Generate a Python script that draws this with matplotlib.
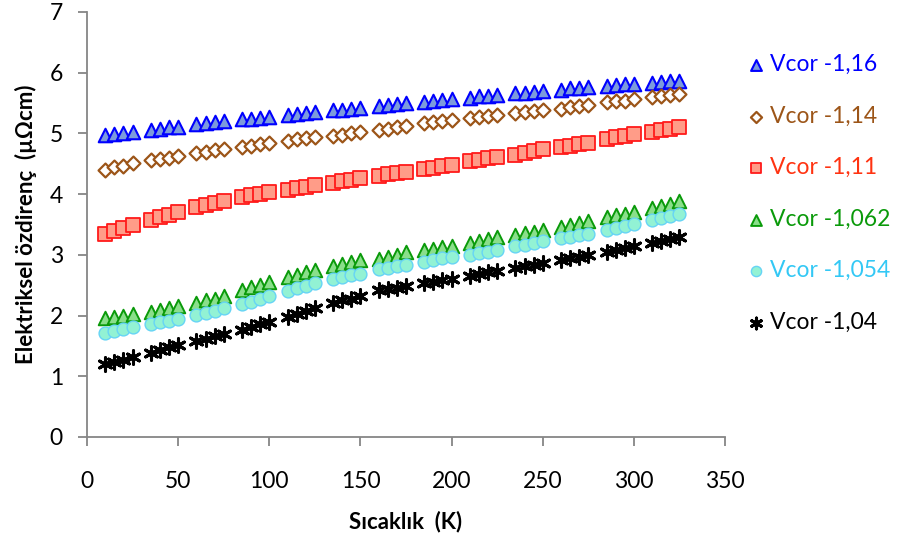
import matplotlib
matplotlib.use("Agg")
import matplotlib.pyplot as plt

plt.rcParams['font.family'] = ['Lato', 'DejaVu Sans']

# Temperature (K)
temperature = [10, 15, 20, 25, 35, 40, 45, 50, 60, 65, 70, 75, 85, 90, 95, 100,
               110, 115, 120, 125, 135, 140, 145, 150, 160, 165, 170, 175,
               185, 190, 195, 200, 210, 215, 220, 225, 235, 240, 245, 250,
               260, 265, 270, 275, 285, 290, 295, 300, 310, 315, 320, 325]

# Electrical resistivity (µΩcm) for each Vcor
rho_116 = [4.97, 4.99, 5.01, 5.03, 5.06, 5.08, 5.10, 5.11, 5.15, 5.17, 5.18, 5.20,
           5.23, 5.24, 5.26, 5.27, 5.30, 5.32, 5.33, 5.35, 5.38, 5.39, 5.41, 5.42,
           5.45, 5.47, 5.48, 5.50, 5.52, 5.54, 5.55, 5.57, 5.59, 5.61, 5.62, 5.63,
           5.66, 5.67, 5.69, 5.70, 5.72, 5.74, 5.75, 5.77, 5.78, 5.80, 5.81, 5.82,
           5.83, 5.85, 5.86, 5.87]
rho_114 = [4.40, 4.44, 4.47, 4.51, 4.56, 4.58, 4.60, 4.62, 4.68, 4.70, 4.72, 4.74,
           4.78, 4.80, 4.82, 4.85, 4.88, 4.90, 4.92, 4.94, 4.96, 4.98, 5.00, 5.02,
           5.06, 5.08, 5.10, 5.12, 5.17, 5.19, 5.20, 5.22, 5.25, 5.27, 5.28, 5.30,
           5.33, 5.35, 5.37, 5.39, 5.41, 5.43, 5.45, 5.47, 5.51, 5.53, 5.54, 5.56,
           5.60, 5.62, 5.63, 5.65]
rho_111 = [3.34, 3.39, 3.44, 3.49, 3.57, 3.62, 3.66, 3.71, 3.78, 3.82, 3.85, 3.89,
           3.95, 3.98, 4.00, 4.03, 4.07, 4.10, 4.12, 4.15, 4.18, 4.21, 4.23, 4.26,
           4.30, 4.33, 4.35, 4.37, 4.41, 4.43, 4.46, 4.48, 4.54, 4.56, 4.59, 4.61,
           4.65, 4.68, 4.71, 4.74, 4.78, 4.80, 4.83, 4.85, 4.91, 4.94, 4.96, 4.99,
           5.03, 5.05, 5.08, 5.11]
rho_1062 = [1.96, 1.98, 2.00, 2.03, 2.06, 2.09, 2.12, 2.15, 2.21, 2.25, 2.28, 2.32,
            2.42, 2.47, 2.51, 2.56, 2.63, 2.67, 2.71, 2.75, 2.82, 2.85, 2.88, 2.91,
            2.93, 2.97, 3.00, 3.04, 3.08, 3.10, 3.13, 3.15, 3.20, 3.23, 3.26, 3.29,
            3.33, 3.36, 3.38, 3.41, 3.46, 3.49, 3.52, 3.55, 3.62, 3.65, 3.68, 3.71,
            3.77, 3.81, 3.84, 3.88]
rho_1054 = [1.72, 1.75, 1.78, 1.81, 1.86, 1.89, 1.91, 1.94, 2.01, 2.05, 2.08, 2.12,
            2.19, 2.23, 2.28, 2.32, 2.41, 2.45, 2.49, 2.53, 2.60, 2.63, 2.66, 2.69,
            2.76, 2.78, 2.81, 2.83, 2.89, 2.91, 2.94, 2.96, 3.00, 3.03, 3.05, 3.08,
            3.14, 3.17, 3.19, 3.22, 3.27, 3.30, 3.32, 3.35, 3.41, 3.44, 3.48, 3.51,
            3.57, 3.60, 3.64, 3.67]
rho_104 = [1.20, 1.24, 1.27, 1.31, 1.39, 1.43, 1.48, 1.52, 1.58, 1.62, 1.66, 1.70,
           1.77, 1.81, 1.86, 1.90, 1.98, 2.03, 2.07, 2.12, 2.21, 2.25, 2.28, 2.32,
           2.42, 2.44, 2.46, 2.48, 2.53, 2.56, 2.58, 2.61, 2.65, 2.68, 2.71, 2.74,
           2.78, 2.81, 2.83, 2.86, 2.92, 2.95, 2.97, 3.00, 3.05, 3.08, 3.11, 3.14,
           3.19, 3.22, 3.26, 3.29]

labels = ['Vcor -1,16', 'Vcor -1,14', 'Vcor -1,11', 'Vcor -1,062', 'Vcor -1,054', 'Vcor -1,04']
series = [rho_116, rho_114, rho_111, rho_1062, rho_1054, rho_104]

styles = [
    dict(marker='^', s=95, facecolor='#7C9BDC', edgecolor='#0000FF', lw=1.5),
    dict(marker='D', s=50, facecolor='white', edgecolor='#9C5518', lw=1.6),
    dict(marker='s', s=95, facecolor='#FF9C88', edgecolor='#FF1A1A', lw=1.3),
    dict(marker='^', s=95, facecolor='#8ADF8A', edgecolor='#0A9A0A', lw=1.4),
    dict(marker='o', s=85, facecolor='#92F2D4', edgecolor='#66D4F5', lw=1.0),
    dict(marker=(6, 2, 0), s=95, facecolor='black', edgecolor='black', lw=2.2),
]
label_colors = ['#0000FF', '#9C5518', '#FF3311', '#0A9A0A', '#33C8F5', '#000000']

fig = plt.figure(figsize=(8.99, 5.44), dpi=100)
ax = fig.add_axes([0.0968, 0.1967, 0.7097, 0.7813])

handles = []
for vals, lab, st in zip(series, labels, styles):
    h = ax.scatter(temperature, vals, label=lab, marker=st['marker'], s=st['s'],
                   facecolors=st['facecolor'], edgecolors=st['edgecolor'],
                   linewidths=st['lw'], zorder=3)
    handles.append(h)

ax.set_xlim(0, 350)
ax.set_ylim(0, 7)
ax.set_xticks(range(0, 351, 50))
ax.set_yticks(range(0, 8))

for side in ['top', 'right']:
    ax.spines[side].set_visible(False)
for side in ['left', 'bottom']:
    ax.spines[side].set_color('#868686')
    ax.spines[side].set_linewidth(1.3)

ax.tick_params(axis='both', direction='out', length=6.3, width=1.3, color='#868686',
               labelsize=16.5, labelcolor='black')
ax.tick_params(axis='x', pad=18)
ax.tick_params(axis='y', pad=11)

ax.set_xlabel('Sıcaklık  (K)', fontsize=16, fontweight='bold')
ax.set_ylabel('Elektriksel özdirenç  (µΩcm)', fontsize=16, fontweight='bold')
ax.xaxis.set_label_coords(0.5, -0.2)
ax.xaxis.label.set_verticalalignment('center')
ax.yaxis.set_label_coords(-0.0956, 0.5)
ax.yaxis.label.set_verticalalignment('center')

leg = ax.legend(handles=handles, loc='upper left', bbox_to_anchor=(1.022, 0.922),
                frameon=False, fontsize=16.5, labelspacing=1.33, handletextpad=0.26,
                markerscale=0.8, borderaxespad=0, handlelength=0.7)
for txt, c in zip(leg.get_texts(), label_colors):
    txt.set_color(c)

fig.savefig('out.png', dpi=100)
